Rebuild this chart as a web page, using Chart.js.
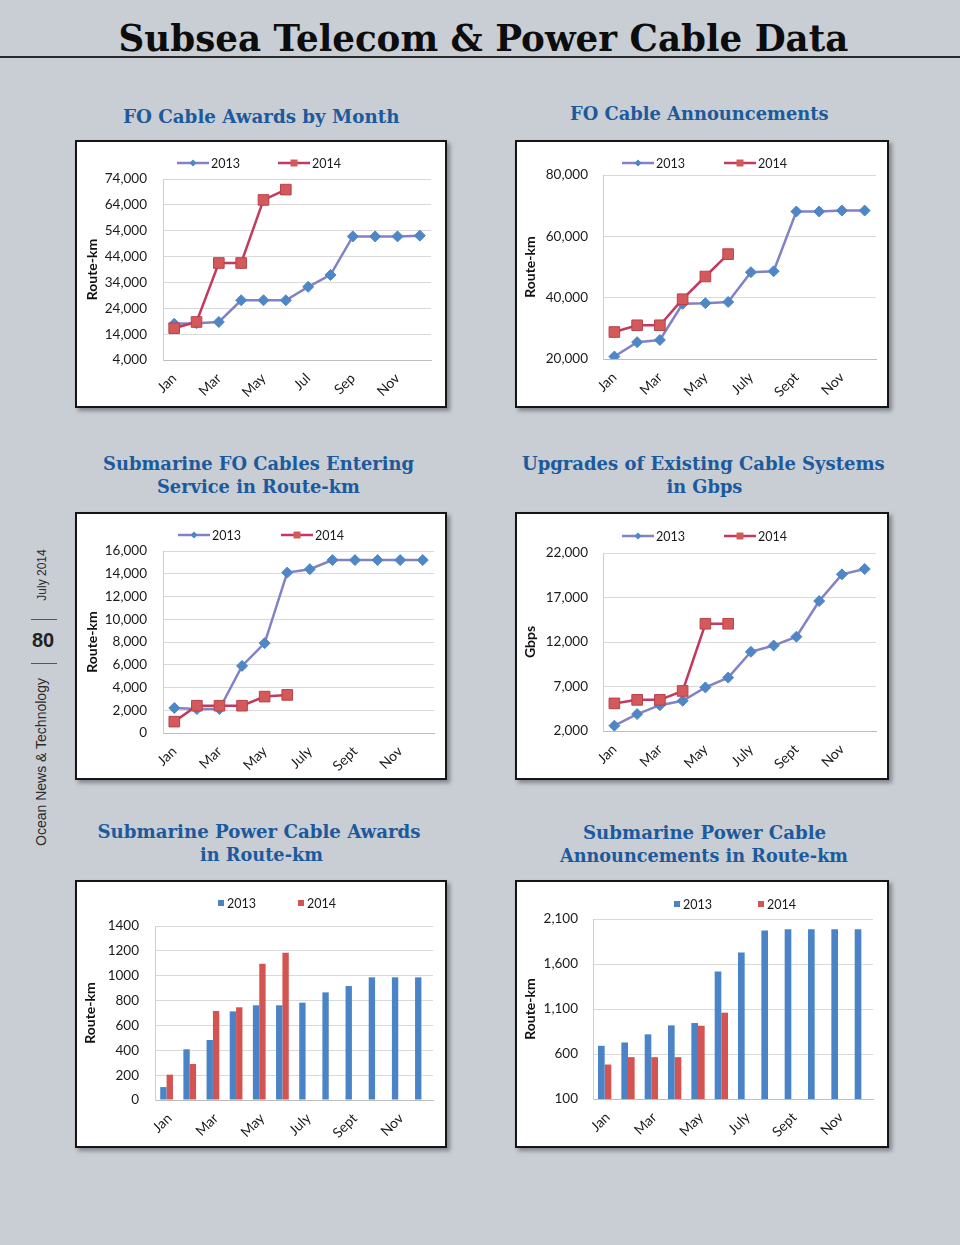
<!DOCTYPE html>
<html>
<head>
<meta charset="utf-8">
<script src="https://cdn.jsdelivr.net/npm/chart.js@4.4.0/dist/chart.umd.min.js"></script>
<style>
html,body{margin:0;padding:0}
body{width:960px;height:1245px;background:#c9cdd4;position:relative;overflow:hidden;font-family:'Liberation Sans',Arial,sans-serif}
.t{position:absolute;white-space:nowrap;transform-origin:center center;line-height:1}
.title{font-family:'DejaVu Serif',serif;font-weight:bold;font-size:37px;color:#0d0d0d}
.sub{font-family:'DejaVu Serif',serif;font-weight:bold;font-size:18px;color:#1b5a9c}
.rule{position:absolute;left:0;top:56px;width:960px;height:2px;background:#2a2a2a}
.panel{position:absolute;background:#fff;border:2px solid #151515;box-shadow:3px 3px 4px rgba(0,0,0,0.35)}
.panel canvas{position:absolute;left:0;top:0}
.side{position:absolute;font-family:'Liberation Sans',Arial,sans-serif;color:#2b2b2b;white-space:nowrap;line-height:1}
.dash{position:absolute;left:31px;width:26px;height:1px;background:#555}
</style>
</head>
<body>
<div class="t title" id="title">Subsea Telecom &amp; Power Cable Data</div>
<div class="rule"></div>

<div class="t sub" id="s1">FO Cable Awards by Month</div>
<div class="t sub" id="s2">FO Cable Announcements</div>
<div class="t sub" id="s3a">Submarine FO Cables Entering</div>
<div class="t sub" id="s3b">Service in Route-km</div>
<div class="t sub" id="s4a">Upgrades of Existing Cable Systems</div>
<div class="t sub" id="s4b">in Gbps</div>
<div class="t sub" id="s5a">Submarine Power Cable Awards</div>
<div class="t sub" id="s5b">in Route-km</div>
<div class="t sub" id="s6a">Submarine Power Cable</div>
<div class="t sub" id="s6b">Announcements in Route-km</div>

<div class="t side" id="sideDate" style="font-size:12px">July 2014</div>
<div class="dash" style="top:619px"></div>
<div class="t side" id="sidePage" style="font-size:20px;font-weight:bold;color:#222">80</div>
<div class="dash" style="top:663px"></div>
<div class="t side" id="sideMag" style="font-size:14px">Ocean News &amp; Technology</div>

<div class="panel" style="left:75px;top:140px;width:368px;height:264px"><canvas id="c1" width="368" height="264"></canvas></div>
<div class="panel" style="left:515px;top:140px;width:370px;height:264px"><canvas id="c2" width="370" height="264"></canvas></div>
<div class="panel" style="left:75px;top:512px;width:368px;height:264px"><canvas id="c3" width="368" height="264"></canvas></div>
<div class="panel" style="left:515px;top:512px;width:370px;height:264px"><canvas id="c4" width="370" height="264"></canvas></div>
<div class="panel" style="left:75px;top:880px;width:368px;height:264px"><canvas id="c5" width="368" height="264"></canvas></div>
<div class="panel" style="left:515px;top:880px;width:370px;height:264px"><canvas id="c6" width="370" height="264"></canvas></div>

<script>
// ---------- DATA ----------
const monthsShort = ['Jan','Feb','Mar','Apr','May','Jun','Jul','Aug','Sep','Oct','Nov','Dec'];
const monthsLong  = ['Jan','Feb','Mar','Apr','May','June','July','Aug','Sept','Oct','Nov','Dec'];
const seriesNames = ['2013','2014'];

const awards2013 = [18000,18200,18700,27100,27100,27100,32300,36900,51800,51800,51800,52100];
const awards2014 = [16300,18700,41500,41500,65900,69900];
const awardsTicks = [4000,14000,24000,34000,44000,54000,64000,74000];

const announce2013 = [20800,25500,26200,38000,38200,38600,48300,48600,68100,68100,68400,68400];
const announce2014 = [28800,31000,31000,39500,46900,54200];
const announceTicks = [20000,40000,60000,80000];

const service2013 = [2200,2100,2100,5900,7900,14100,14400,15200,15200,15200,15200,15200];
const service2014 = [1000,2400,2400,2400,3200,3350];
const serviceTicks = [0,2000,4000,6000,8000,10000,12000,14000,16000];

const upgrades2013 = [2600,3900,4900,5400,6900,8000,10900,11600,12600,16600,19600,20200];
const upgrades2014 = [5100,5500,5500,6500,14050,14050];
const upgradesTicks = [2000,7000,12000,17000,22000];

const powerAwards2013 = [104,408,483,713,762,762,783,866,917,987,987,987];
const powerAwards2014 = [204,290,716,746,1097,1185];
const powerAwardsTicks = [0,200,400,600,800,1000,1200,1400];

const powerAnn2013 = [691,728,818,918,944,1516,1728,1973,1985,1985,1985,1985];
const powerAnn2014 = [483,565,565,565,914,1059];
const powerAnnTicks = [100,600,1100,1600,2100];

// ---------- STYLE ----------
const FONT = 'Lato, "Liberation Sans", Arial, sans-serif';
const C13_LINE = '#8282c4', C13_MARK = '#4f86c6';
const C14_LINE = '#c23a5e', C14_MARK = '#d4595b', C14_EDGE = '#b8424c';
const BAR13 = '#4a84c6', BAR14 = '#d35450';

const xlLegend = {
  id: 'xlLegend',
  afterDraw(chart, args, opts) {
    if (!opts || !opts.xs) return;
    const ctx = chart.ctx;
    ctx.save();
    ctx.font = '12.5px ' + FONT;
    ctx.textBaseline = 'middle';
    ctx.textAlign = 'left';
    chart.data.datasets.forEach((ds, i) => {
      const x = opts.xs[i], y = opts.y;
      let tx;
      if (opts.kind === 'line') {
        ctx.strokeStyle = ds.borderColor; ctx.lineWidth = 2.5;
        ctx.beginPath(); ctx.moveTo(x, y); ctx.lineTo(x + opts.len, y); ctx.stroke();
        const cx = x + opts.len / 2;
        ctx.fillStyle = ds.pointBackgroundColor;
        ctx.beginPath();
        if (ds.pointStyle === 'rectRot') {
          const r = 3.5;
          ctx.moveTo(cx, y - r); ctx.lineTo(cx + r, y); ctx.lineTo(cx, y + r); ctx.lineTo(cx - r, y); ctx.closePath();
        } else {
          ctx.rect(cx - 3.5, y - 3.5, 7, 7);
        }
        ctx.fill();
        tx = x + opts.len + 2;
      } else {
        ctx.fillStyle = ds.backgroundColor;
        ctx.fillRect(x, y - 3, 6, 6);
        tx = x + 9;
      }
      ctx.fillStyle = '#1a1a1a';
      ctx.fillText(ds.label, tx, y + 0.5);
    });
    ctx.restore();
  }
};
Chart.register(xlLegend);

function fmt(plain) {
  return v => plain ? String(v) : Number(v).toLocaleString('en-US');
}

function baseOptions(labels, ticks, yTitle, L, plain) {
  return {
    responsive: false,
    animation: false,
    layout: { padding: { top: L.top, right: L.right, left: 0, bottom: 0 } },
    plugins: { legend: { display: false }, tooltip: { enabled: false }, xlLegend: L.legend },
    scales: {
      x: {
        offset: true,
        grid: { display: false, drawTicks: false },
        border: { display: true, color: '#bdbdbd', width: 1 },
        ticks: {
          autoSkip: false, maxRotation: 45, minRotation: 45, padding: L.xPad, labelOffset: L.xOff || 0,
          color: '#1a1a1a', font: { size: 14, family: FONT },
          callback: (v, i) => (i % 2 === 0 ? labels[i] : '')
        },
        afterFit: s => { s.height = L.xH; }
      },
      y: {
        min: ticks[0], max: ticks[ticks.length - 1],
        afterBuildTicks: s => { s.ticks = ticks.map(v => ({ value: v })); },
        ticks: { padding: L.yPad, color: '#1a1a1a', font: { size: 13.5, family: FONT }, callback: fmt(plain) },
        grid: { color: '#d9d9d9', drawTicks: false, lineWidth: 1 },
        border: { display: true, color: '#cfcfcf' },
        title: { display: true, text: yTitle, color: '#111', font: { size: 14, weight: 'bold', family: FONT }, padding: { top: L.tPad, bottom: 0 } },
        afterFit: s => { s.width = L.yW; }
      }
    }
  };
}

function lineChart(id, labels, d13, d14, ticks, yTitle, L) {
  return new Chart(document.getElementById(id), {
    type: 'line',
    data: {
      labels: labels,
      datasets: [
        { label: seriesNames[0], data: d13, borderColor: C13_LINE, borderWidth: 2.5, pointStyle: 'rectRot', pointRadius: 5.5,
          pointBackgroundColor: C13_MARK, pointBorderColor: C13_MARK, pointBorderWidth: 1, tension: 0, order: 2 },
        { label: seriesNames[1], data: d14, borderColor: C14_LINE, borderWidth: 2.5, pointStyle: 'rect', pointRadius: 7.5,
          pointBackgroundColor: C14_MARK, pointBorderColor: C14_EDGE, pointBorderWidth: 1, tension: 0, order: 1 }
      ]
    },
    options: baseOptions(labels, ticks, yTitle, L, false)
  });
}

function barChart(id, labels, d13, d14, ticks, yTitle, L, plain) {
  return new Chart(document.getElementById(id), {
    type: 'bar',
    data: {
      labels: labels,
      datasets: [
        { label: seriesNames[0], data: d13, backgroundColor: BAR13, categoryPercentage: L.cat, barPercentage: 1 },
        { label: seriesNames[1], data: d14, backgroundColor: BAR14, categoryPercentage: L.cat, barPercentage: 1 }
      ]
    },
    options: baseOptions(labels, ticks, yTitle, L, plain)
  });
}

lineChart('c1', monthsShort, awards2013, awards2014, awardsTicks, 'Route-km',
  { top: 37, right: 14, yW: 86, xH: 46, yPad: 16, tPad: 7, xPad: 10, legend: { kind: 'line', y: 21, xs: [100, 201], len: 32 } });
lineChart('c2', monthsLong, announce2013, announce2014, announceTicks, 'Route-km',
  { top: 33, right: 11, yW: 86, xH: 47, yPad: 15, tPad: 5, xPad: 10, legend: { kind: 'line', y: 21, xs: [105, 207], len: 32 } });
lineChart('c3', monthsLong, service2013, service2014, serviceTicks, 'Route-km',
  { top: 37, right: 9, yW: 86, xH: 45, yPad: 16, tPad: 7, xPad: 10, legend: { kind: 'line', y: 21, xs: [101, 204], len: 32 } });
lineChart('c4', monthsLong, upgrades2013, upgrades2014, upgradesTicks, 'Gbps',
  { top: 39, right: 10, yW: 86, xH: 47, yPad: 15, tPad: 5, xPad: 10, legend: { kind: 'line', y: 22, xs: [105, 207], len: 32 } });
barChart('c5', monthsLong, powerAwards2013, powerAwards2014, powerAwardsTicks, 'Route-km',
  { top: 44, right: 12, yW: 78, xH: 46, yPad: 16, tPad: 5, xPad: 10, xOff: 3, cat: 0.55, legend: { kind: 'box', y: 21, xs: [141, 221] } }, true);
barChart('c6', monthsLong, powerAnn2013, powerAnn2014, powerAnnTicks, 'Route-km',
  { top: 37, right: 14, yW: 76, xH: 47, yPad: 15, tPad: 5, xPad: 10, xOff: 3, cat: 0.57, legend: { kind: 'box', y: 22, xs: [157, 241] } }, false);

// ---------- TEXT PLACEMENT ----------
function place(id, cx, cy, w, rot) {
  const el = document.getElementById(id);
  const wd = el.offsetWidth, ht = el.offsetHeight;
  el.style.left = (cx - wd / 2) + 'px';
  el.style.top = (cy - ht / 2) + 'px';
  const sx = w ? w / wd : 1;
  el.style.transform = (rot ? 'rotate(' + rot + 'deg) ' : '') + 'scaleX(' + sx + ')';
}
place('title', 483, 38, 730);
place('s1', 261, 117, 276);
place('s2', 699.5, 114, 259);
place('s3a', 258.5, 464, 311);
place('s3b', 258.5, 487, 203);
place('s4a', 703.5, 464, 363);
place('s4b', 704, 487, 76);
place('s5a', 258.5, 832, 323);
place('s5b', 261.5, 855, 123);
place('s6a', 704.5, 833, 243);
place('s6b', 704, 856, 288);
place('sideDate', 41, 575, 0, -90);
place('sidePage', 43, 640, 0, 0);
place('sideMag', 41, 762, 0, -90);
</script>
</body>
</html>
